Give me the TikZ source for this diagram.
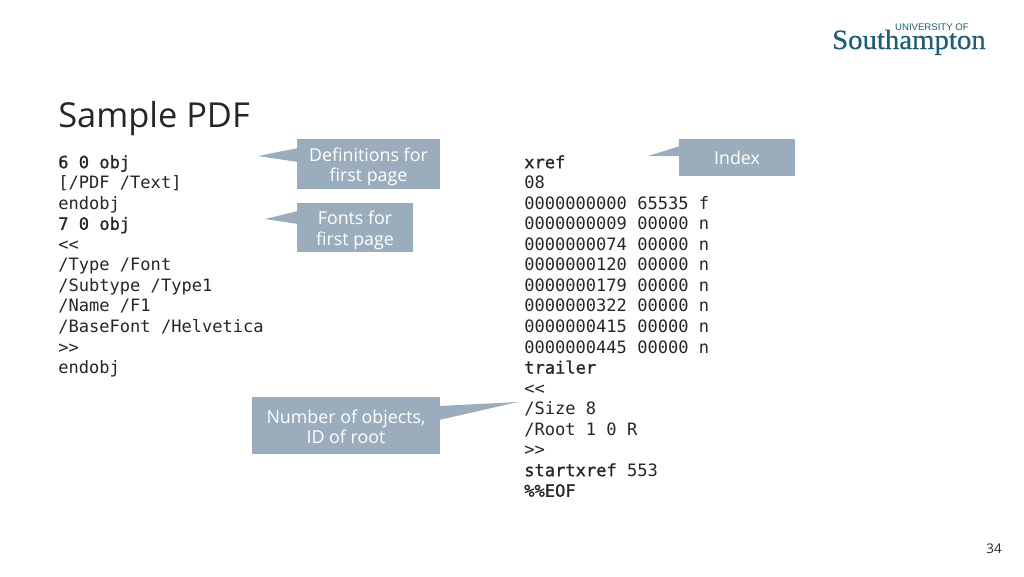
\documentclass[tikz,border=0pt]{standalone}
\usepackage{fontspec}
\setmainfont{Open Sans}
\setmonofont[BoldFont=DejaVu Sans Mono,BoldFeatures={FakeBold=1.2}]{DejaVu Sans Mono}
\newfontfamily\logofont[FakeBold=0.5]{Liberation Serif}
\newfontfamily\logotopfont{Liberation Sans}
\definecolor{notegray}{HTML}{9BADBC}
\definecolor{logoblue}{HTML}{1F5C78}
\definecolor{inkgray}{HTML}{262626}
\newcommand{\notestrut}{\rule{0pt}{14.4pt}}
\tikzset{
  notebox/.style={fill=notegray,text=white,inner sep=0pt,align=center,font=\fontsize{13.35}{15.6}\selectfont},
  codeblock/.style={anchor=north west,inner sep=0pt,align=left,text=inkgray,font=\fontsize{12.8}{15.4}\ttfamily}
}
\begin{document}
\begin{tikzpicture}[x=0.75pt,y=-0.75pt]
\useasboundingbox (0,0) rectangle (1024,576);
\node[anchor=base west,inner sep=0pt,text=inkgray,font=\fontsize{25.8}{30}\selectfont](title) at(58,127){Sample PDF};
\node[codeblock](leftcode) at(58,155){\textbf{6 0 obj}\\{}[/PDF /Text]\\endobj\\\textbf{7 0 obj}\\<{}<\\/Type /Font\\/Subtype /Type1\\/Name /F1\\/BaseFont /Helvetica\\>{}>\\endobj};
\node[codeblock](rightcode) at(524,155){\textbf{xref}\\08\\0000000000 65535 f\\0000000009 00000 n\\0000000074 00000 n\\0000000120 00000 n\\0000000179 00000 n\\0000000322 00000 n\\0000000415 00000 n\\0000000445 00000 n\\\textbf{trailer}\\<{}<\\/Size 8\\/Root 1 0 R\\>{}>\\\textbf{startxref} 553\\\textbf{\%\%EOF}};
\fill[notegray](258,156)--(298,148)--(298,162)--cycle;
\fill[notegray](265,219)--(298,211)--(298,224)--cycle;
\fill[notegray](648,156)--(680,146)--(680,156)--cycle;
\fill[notegray](518,402)--(439,406)--(439,420)--cycle;
\node[notebox,minimum width=143*0.75pt,minimum height=50*0.75pt](defs) at(368.5,164){\notestrut Definitions for\\first page};
\node[notebox,minimum width=116*0.75pt,minimum height=49*0.75pt](fonts) at(355,227.5){\notestrut Fonts for\\first page};
\node[notebox,minimum width=116*0.75pt,minimum height=37*0.75pt](index) at(737,157.5){Index};
\node[notebox,minimum width=188*0.75pt,minimum height=57*0.75pt](count) at(346,425.5){\rule{0pt}{12pt}Number of objects,\\ID of root};
\node[anchor=base east,inner sep=0pt,text=logoblue,font=\logofont\fontsize{20}{24}\selectfont,xscale=1.08,yscale=1.05](logo) at(986,49){Southampton};
\node[anchor=base east,inner sep=0pt,text=logoblue,font=\logotopfont\fontsize{7.2}{10}\selectfont](logotop) at(969,30.5){UNIVERSITY OF};
\node[anchor=base east,inner sep=0pt,text=inkgray,font=\fontsize{10}{11}\selectfont](pagenum) at(1002,553){34};
\end{tikzpicture}
\end{document}
